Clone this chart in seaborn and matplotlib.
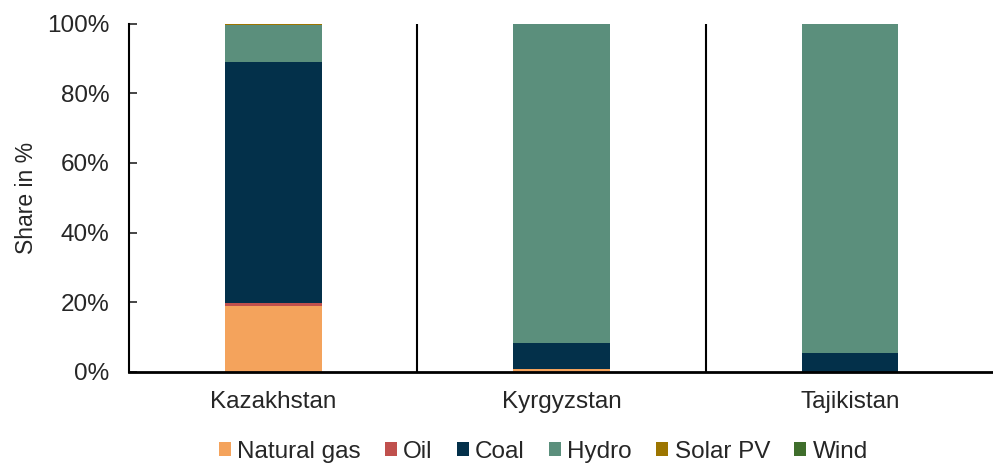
import pandas as pd
import numpy as np
import seaborn as sns
import matplotlib
matplotlib.use("Agg")
import matplotlib.pyplot as plt
from matplotlib.patches import Patch
from matplotlib.ticker import PercentFormatter

# datos (participacion en %)
paises = ["Kazakhstan", "Kyrgyzstan", "Tajikistan"]
fuentes = ["Natural gas", "Oil", "Coal", "Hydro", "Solar PV", "Wind"]
gas_natural = [19.0, 0.8, 0.0]
petroleo = [0.8, 0.0, 0.0]
carbon = [69.1, 7.4, 5.4]
hidro = [10.6, 91.8, 94.6]
solar = [0.4, 0.0, 0.0]
eolica = [0.1, 0.0, 0.0]

colores = ["#F4A35C", "#C0504D", "#03304A", "#5B8F7C", "#9C7500", "#3F6E2C"]

sns.set_style("white")
plt.rcParams['font.family'] = ['Liberation Sans', 'DejaVu Sans']

datos = pd.DataFrame({"pais": paises, "Natural gas": gas_natural, "Oil": petroleo,
                      "Coal": carbon, "Hydro": hidro, "Solar PV": solar, "Wind": eolica})
# acumulado para apilar las barras
acumulado = datos[fuentes].cumsum(axis=1) / 100.0
acumulado["pais"] = datos["pais"]

fig = plt.figure(figsize=(9.93, 4.63), dpi=100)
ax = fig.add_axes([0.130, 0.197, 0.871, 0.752])

# se dibuja de arriba hacia abajo para que cada capa quede visible
for fuente, color in reversed(list(zip(fuentes, colores))):
    sns.barplot(data=acumulado, x="pais", y=fuente, color=color, width=0.335,
                saturation=1, ax=ax, linewidth=0)

ax.set_xlim(-0.5, len(paises) - 0.5)
ax.set_ylim(0, 1)
ax.set_yticks(np.arange(0, 1.01, 0.2))
ax.yaxis.set_major_formatter(PercentFormatter(1.0, decimals=0))
ax.set_xlabel("")
ax.set_ylabel("Share in %", fontsize=16.5, labelpad=7)
ax.tick_params(axis="y", direction="in", length=6, width=1.2, labelsize=17.5, pad=14, left=True)
ax.tick_params(axis="x", length=0, labelsize=17.5, pad=14)

# separadores entre paises
ax.vlines(np.arange(len(paises) - 1) + 0.5, 0, 1, color="black", linewidth=1.5)

sns.despine(ax=ax, top=True, right=True)
ax.spines["left"].set_color("black")
ax.spines["left"].set_linewidth(1.5)
ax.spines["bottom"].set_color("black")
ax.spines["bottom"].set_linewidth(2)

manejadores = [Patch(facecolor=c, edgecolor="none", label=f) for f, c in zip(fuentes, colores)]
fig.legend(handles=manejadores, loc="center", bbox_to_anchor=(0.547, 1 - 452 / 463),
           ncol=6, frameon=False, fontsize=17.5, handlelength=0.5, handleheight=0.5,
           handletextpad=0.25, columnspacing=1.0)

plt.savefig("out.png", dpi=100)
